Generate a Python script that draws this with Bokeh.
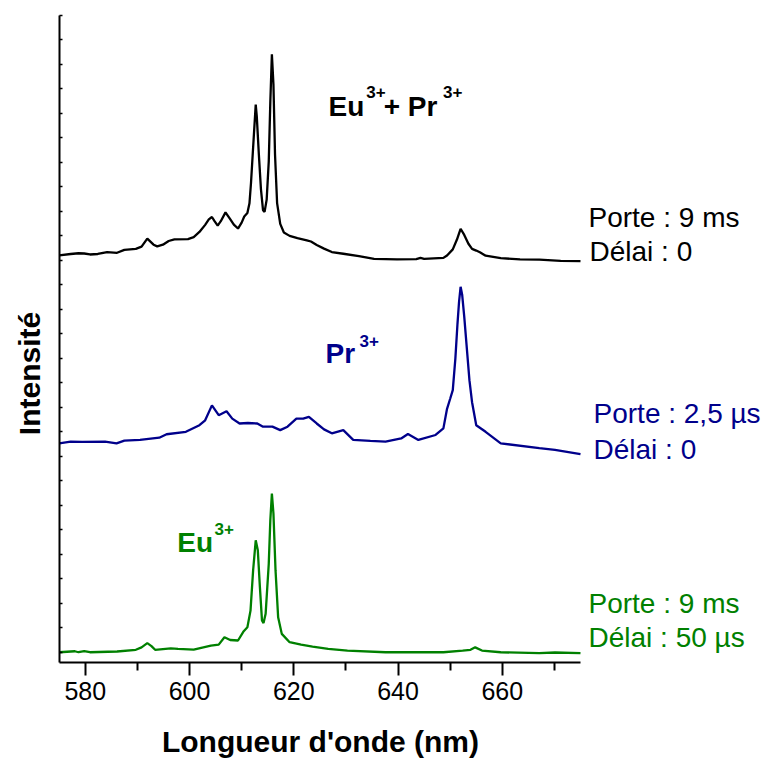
import math
from bokeh.plotting import figure
from bokeh.models import Range1d, FixedTicker, Label
from bokeh.embed import file_html
from bokeh.resources import INLINE

# ---------------- data ----------------
# Eu3+ + Pr3+  (black), gate 9 ms, delay 0
wl_eupr = [575, 577.2, 578.7, 579.8, 580.9, 582.4, 584.2, 586.1, 587.5, 589.7,
           590.8, 591.9, 593.1, 593.8, 594.9, 596, 597.1, 599.7, 600.8, 601.9,
           603, 603.7, 604.3, 604.8, 605.4, 606, 606.9, 607.8, 608.5, 609.3,
           610, 610.5, 611.1, 611.5, 611.8, 612.2, 612.7, 612.9, 613.3, 613.7,
           614.1, 614.4, 614.8, 615.2, 615.5, 615.8, 616.1, 616.4, 616.8, 617.4,
           618.1, 619.2, 620.7, 622.5, 623.3, 624.4, 625.8, 627.3, 629.5, 632.5,
           635.4, 639.8, 643.5, 644.3, 645, 648.7, 649.4, 650.5, 651.3, 652,
           652.7, 653.5, 654.2, 655, 655.7, 656.8, 659.7, 663.4, 667.1, 671.2, 675]
int_eupr = [16.20, 16.26, 16.29, 16.28, 16.24, 16.26, 16.34, 16.31, 16.43, 16.47,
            16.56, 16.89, 16.64, 16.57, 16.64, 16.79, 16.86, 16.87, 16.95, 17.16,
            17.45, 17.67, 17.77, 17.60, 17.42, 17.60, 17.96, 17.68, 17.46, 17.30,
            17.54, 17.79, 17.93, 18.33, 19.18, 20.61, 22.36, 21.89, 20.33, 18.91,
            18.05, 17.98, 18.48, 20.04, 22.47, 24.41, 23.18, 20.33, 18.34, 17.49,
            17.14, 17.00, 16.91, 16.82, 16.77, 16.63, 16.48, 16.34, 16.27, 16.17,
            16.06, 16.04, 16.05, 16.10, 16.06, 16.10, 16.20, 16.45, 16.85, 17.29,
            17.04, 16.68, 16.47, 16.40, 16.33, 16.19, 16.09, 16.04, 16.03, 15.98, 15.97]

# Pr3+ (blue), gate 2.5 us, delay 0
wl_pr = [575, 577.2, 579.4, 583.8, 586, 587.5, 590.5, 594.2, 595.6, 599.3,
         601.9, 603, 604.3, 605.6, 607.1, 608.2, 609.6, 611.2, 613, 614.1, 615.9,
         617.4, 618.8, 620.5, 621.8, 622.9, 624.4, 625.8, 627.3, 629.5, 631.4,
         634.7, 637.6, 640.6, 641.9, 643.9, 647.2, 648.7, 649.4, 650.0, 650.5,
         651.0, 651.4, 651.7, 652, 652.3, 652.7, 653.2, 653.7, 654.2, 655,
         656.8, 659.7, 667.1, 670.1, 675]
int_pr = [8.53, 8.60, 8.59, 8.60, 8.53, 8.64, 8.67, 8.76, 8.90, 9.00,
          9.27, 9.47, 10.08, 9.68, 9.84, 9.54, 9.34, 9.36, 9.34, 9.21, 9.21,
          9.07, 9.21, 9.54, 9.54, 9.61, 9.34, 9.10, 8.94, 9.07, 8.67,
          8.63, 8.60, 8.73, 8.91, 8.67, 8.87, 9.14, 9.94, 10.35, 10.70,
          12.00, 13.40, 14.30, 14.92, 14.60, 13.70, 12.40, 11.10, 10.21, 9.27,
          9.00, 8.53, 8.33, 8.26, 8.09]

# Eu3+ (green), gate 9 ms, delay 50 us
wl_eu = [575, 578, 578.7, 579.8, 580.9, 586.1, 589.7, 590.8, 591.9, 592.7,
         593.4, 596.4, 597.8, 600.8, 604.1, 605.6, 606.7, 607.8, 609.3, 610.4,
         611.1, 611.7, 612.2, 612.7, 613.1, 613.5, 613.9, 614.2, 614.6, 615.2,
         615.5, 615.8, 616.1, 616.5, 617, 617.7, 619.2, 621.4, 623.6, 626.6,
         630.3, 637.6, 648.7, 652.4, 653.9, 654.8, 656.1, 659.7, 667.1, 670.1, 675]
int_eu = [0.00, 0.04, 0.00, 0.05, 0.00, 0.03, 0.10, 0.20, 0.37, 0.25,
          0.10, 0.16, 0.14, 0.11, 0.27, 0.31, 0.61, 0.50, 0.48, 0.86,
          1.02, 1.70, 3.34, 4.57, 4.16, 2.66, 1.30, 1.19, 1.57, 3.61,
          5.39, 6.48, 5.66, 3.34, 1.43, 0.75, 0.41, 0.31, 0.23, 0.14,
          0.07, 0.00, 0.00, 0.07, 0.10, 0.20, 0.07, 0.00, -0.04, -0.01, -0.04]

x_major_ticks = [580, 600, 620, 640, 660]
x_minor_ticks = [590, 610, 630, 650, 670]
y_ticks = list(range(27))
x_axis_span = (575, 675)
y_axis_span = (-0.41, 26)

BLACK = "#000000"
BLUE = "#00008B"
GREEN = "#008000"
FONT = "Liberation Sans"

p = figure(width=765, height=760, output_backend="svg", toolbar_location=None,
           x_range=Range1d(563.74, 710.49), y_range=Range1d(-4.42, 26.61),
           min_border_left=0, min_border_right=0, min_border_top=0,
           min_border_bottom=0)
p.outline_line_color = None
p.xgrid.visible = False
p.ygrid.visible = False
p.background_fill_color = "white"
p.border_fill_color = "white"

p.line(wl_eupr, int_eupr, line_color=BLACK, line_width=2.3)
p.line(wl_pr, int_pr, line_color=BLUE, line_width=2.3)
p.line(wl_eu, int_eu, line_color=GREEN, line_width=2.3)

# x axis
xa = p.xaxis[0]
xa.fixed_location = y_axis_span[0]
xa.bounds = x_axis_span
xa.ticker = FixedTicker(ticks=x_major_ticks, minor_ticks=x_minor_ticks)
xa.axis_line_width = 2
xa.major_tick_line_width = 2
xa.minor_tick_line_width = 2
xa.major_tick_out = 13
xa.major_tick_in = 0
xa.minor_tick_out = 8
xa.minor_tick_in = 0
xa.major_label_standoff = 7
xa.major_label_text_font = FONT
xa.major_label_text_font_size = "25px"
xa.major_label_text_color = BLACK

# y axis (only small inward ticks, no labels)
ya = p.yaxis[0]
ya.fixed_location = x_axis_span[0]
ya.bounds = y_axis_span
ya.ticker = FixedTicker(ticks=[], minor_ticks=y_ticks)
ya.axis_line_width = 2
ya.minor_tick_line_width = 1.5
ya.minor_tick_in = 3
ya.minor_tick_out = 0
ya.major_tick_in = 0
ya.major_tick_out = 0


def lab(x, y, text, color, size, bold=False, align="left", angle=0.0):
    p.add_layout(Label(x=x, y=y, text=text, text_align=align,
                       text_baseline="alphabetic", text_font=FONT,
                       text_font_size=size, angle=angle,
                       text_font_style="bold" if bold else "normal",
                       text_color=color))


# axis titles
lab(625.12, -3.65, "Longueur d'onde (nm)", BLACK, "30px", True, "center")
lab(569.30, 11.38, "Intensité", BLACK, "30px", True, "center", math.pi / 2)

# species labels
lab(626.66, 22.30, "Eu", BLACK, "28px", True)
lab(633.89, 22.86, "3+", BLACK, "17px", True)
lab(637.25, 22.30, "+ Pr", BLACK, "28px", True)
lab(648.62, 22.86, "3+", BLACK, "17px", True)

lab(626.08, 12.18, "Pr", BLUE, "28px", True)
lab(632.61, 12.70, "3+", BLUE, "17px", True)

lab(597.64, 4.49, "Eu", GREEN, "28px", True)
lab(604.79, 5.02, "3+", GREEN, "17px", True)

# acquisition conditions
lab(676.54, 17.77, "Porte : 9 ms", BLACK, "28px")
lab(676.73, 16.36, "Délai : 0", BLACK, "28px")
lab(677.50, 9.75, "Porte : 2,5 µs", BLUE, "28px")
lab(677.50, 8.28, "Délai : 0", BLUE, "28px")
lab(676.54, 1.99, "Porte : 9 ms", GREEN, "28px")
lab(676.54, 0.60, "Délai : 50 µs", GREEN, "28px")

open("out.html", "w").write(file_html(p, INLINE))
